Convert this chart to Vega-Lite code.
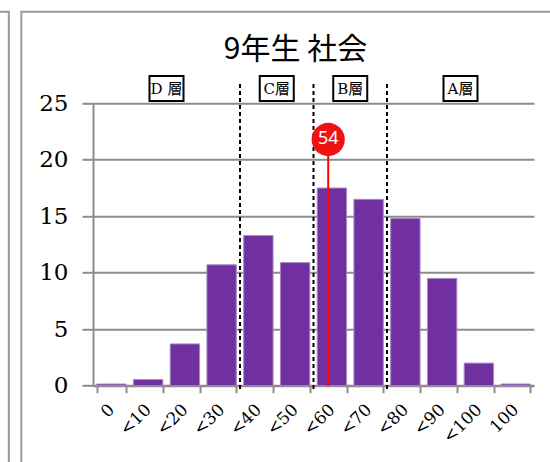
{
  "$schema": "https://vega.github.io/schema/vega-lite/v6.json",
  "width": 441,
  "height": 282.4,
  "autosize": {"type": "none"},
  "padding": {"left": 93, "top": 103.3, "right": 16, "bottom": 76.3},
  "background": "white",
  "title": {
    "text": "9年生 社会",
    "font": "Noto Sans CJK JP",
    "fontSize": 30,
    "fontWeight": "normal",
    "color": "black",
    "anchor": "middle",
    "frame": "group",
    "dx": -18,
    "offset": -78,
    "baseline": "alphabetic"
  },
  "config": {"view": {"stroke": null}},
  "datasets": {
    "bins": [
      {"range": "0", "count": 0.15},
      {"range": "<10", "count": 0.55},
      {"range": "<20", "count": 3.7},
      {"range": "<30", "count": 10.7},
      {"range": "<40", "count": 13.3},
      {"range": "<50", "count": 10.9},
      {"range": "<60", "count": 17.5},
      {"range": "<70", "count": 16.5},
      {"range": "<80", "count": 14.8},
      {"range": "<90", "count": 9.5},
      {"range": "<100", "count": 2.0},
      {"range": "100", "count": 0.15}
    ],
    "cuts": [{"score": 30}, {"score": 50}, {"score": 70}],
    "layers": [
      {"layer": "D 層", "mid": 10},
      {"layer": "C層", "mid": 40},
      {"layer": "B層", "mid": 60},
      {"layer": "A層", "mid": 90}
    ],
    "average": [{"avg": 54}],
    "frame": [{"part": "border"}]
  },
  "resolve": {"scale": {"x": "independent"}},
  "layer": [
    {
      "data": {"name": "frame"},
      "layer": [
        {
          "mark": {"type": "rect", "fill": "white", "fillOpacity": 0, "stroke": "#9a9a9a", "strokeWidth": 2, "clip": false},
          "encoding": {
            "x": {"datum": -29.5, "type": "quantitative", "scale": {"domain": [-10, 110], "nice": false, "zero": false}, "axis": null},
            "x2": {"datum": 140},
            "y": {"datum": 33.1, "type": "quantitative", "scale": {"domain": [0, 25], "nice": false}},
            "y2": {"datum": -12}
          }
        },
        {
          "mark": {"type": "rect", "fill": "white", "fillOpacity": 0, "stroke": "#9a9a9a", "strokeWidth": 2, "clip": false},
          "encoding": {
            "x": {"datum": -60, "type": "quantitative", "scale": {"domain": [-10, 110], "nice": false, "zero": false}, "axis": null},
            "x2": {"datum": -32.9},
            "y": {"datum": 33.1, "type": "quantitative", "scale": {"domain": [0, 25], "nice": false}},
            "y2": {"datum": -12}
          }
        }
      ]
    },
    {
      "data": {"name": "bins"},
      "mark": {"type": "bar", "color": "#7030a0", "stroke": "#a88cc4", "strokeWidth": 1},
      "encoding": {
        "x": {
          "field": "range",
          "type": "nominal",
          "sort": null,
          "scale": {"paddingInner": 0.2, "paddingOuter": 0.1},
          "axis": {
            "title": null,
            "labelAngle": -45,
            "labelAlign": "right",
            "labelBaseline": "middle",
            "labelFont": "DejaVu Serif",
            "labelFontSize": 17,
            "labelColor": "black",
            "labelPadding": 14,
            "domainColor": "#8c8c8c",
            "domainWidth": 2,
            "tickColor": "#8c8c8c",
            "tickWidth": 2,
            "tickSize": 7,
            "tickBand": "extent",
            "grid": false
          }
        },
        "y": {
          "field": "count",
          "type": "quantitative",
          "scale": {"domain": [0, 25], "nice": false},
          "axis": {
            "title": null,
            "values": [0, 5, 10, 15, 20, 25],
            "grid": true,
            "gridColor": "#8c8c8c",
            "gridWidth": 2,
            "domainColor": "#8c8c8c",
            "domainWidth": 2,
            "tickColor": "#8c8c8c",
            "tickWidth": 2,
            "tickSize": 11,
            "labelFont": "DejaVu Serif",
            "labelFontSize": 23,
            "labelColor": "black",
            "labelPadding": 14
          }
        }
      }
    },
    {
      "layer": [
        {
          "data": {"name": "cuts"},
          "mark": {"type": "rule", "color": "black", "strokeWidth": 2, "strokeDash": [4, 3], "clip": false},
          "encoding": {
            "x": {"field": "score", "type": "quantitative", "scale": {"domain": [-10, 110], "nice": false, "zero": false}, "axis": null},
            "y": {"datum": 26.7, "type": "quantitative", "scale": {"domain": [0, 25], "nice": false}},
            "y2": {"datum": -0.56}
          }
        },
        {
          "data": {"name": "layers"},
          "mark": {"type": "rect", "fill": "white", "stroke": "black", "strokeWidth": 2, "clip": false, "xOffset": -17, "x2Offset": 17, "yOffset": -12.5, "y2Offset": 12.5},
          "encoding": {
            "x": {"field": "mid", "type": "quantitative", "scale": {"domain": [-10, 110], "nice": false, "zero": false}, "axis": null},
            "x2": {"field": "mid"},
            "y": {"datum": 26.3, "type": "quantitative", "scale": {"domain": [0, 25], "nice": false}},
            "y2": {"datum": 26.3}
          }
        },
        {
          "data": {"name": "layers"},
          "mark": {"type": "text", "font": "DejaVu Serif, Noto Sans CJK JP", "fontSize": 15, "color": "black", "align": "center", "baseline": "middle", "clip": false},
          "encoding": {
            "x": {"field": "mid", "type": "quantitative", "scale": {"domain": [-10, 110], "nice": false, "zero": false}, "axis": null},
            "y": {"datum": 26.3, "type": "quantitative", "scale": {"domain": [0, 25], "nice": false}},
            "text": {"field": "layer"}
          }
        },
        {
          "data": {"name": "average"},
          "mark": {"type": "rule", "color": "#ff0000", "strokeWidth": 2, "clip": false},
          "encoding": {
            "x": {"field": "avg", "type": "quantitative", "scale": {"domain": [-10, 110], "nice": false, "zero": false}, "axis": null},
            "y": {"datum": 0, "type": "quantitative", "scale": {"domain": [0, 25], "nice": false}},
            "y2": {"datum": 21.8}
          }
        },
        {
          "data": {"name": "average"},
          "mark": {"type": "point", "shape": "circle", "filled": true, "color": "#f01212", "opacity": 1, "size": 1100, "clip": false},
          "encoding": {
            "x": {"field": "avg", "type": "quantitative", "scale": {"domain": [-10, 110], "nice": false, "zero": false}, "axis": null},
            "y": {"datum": 21.8, "type": "quantitative", "scale": {"domain": [0, 25], "nice": false}}
          }
        },
        {
          "data": {"name": "average"},
          "mark": {"type": "text", "font": "Noto Sans", "fontSize": 18, "color": "white", "align": "center", "baseline": "middle", "clip": false},
          "encoding": {
            "x": {"field": "avg", "type": "quantitative", "scale": {"domain": [-10, 110], "nice": false, "zero": false}, "axis": null},
            "y": {"datum": 21.8, "type": "quantitative", "scale": {"domain": [0, 25], "nice": false}},
            "text": {"field": "avg"}
          }
        }
      ]
    }
  ]
}
